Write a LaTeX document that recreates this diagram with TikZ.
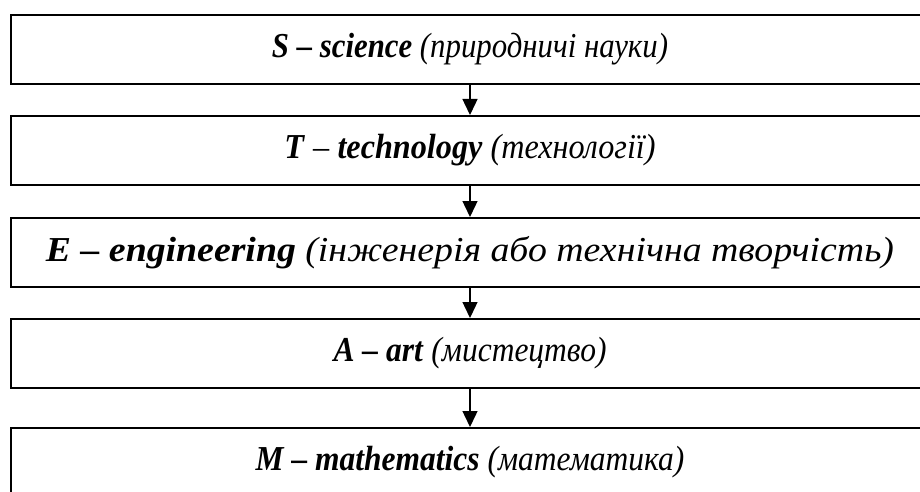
\documentclass[tikz,border=0pt]{standalone}
\usepackage{fontspec}
\usepackage{graphicx}
\setmainfont{Liberation Serif}
\usetikzlibrary{arrows.meta}
\begin{document}
\begin{tikzpicture}[x=1pt,y=-1pt,
  stembox/.style={draw=black, line width=2pt, minimum width=918pt, minimum height=69pt,
    inner sep=0pt, anchor=north west, font=\fontsize{35}{40}\selectfont},
  link/.style={line width=1.4pt, -{Triangle[width=15pt,length=16pt]}}]
\useasboundingbox (0,0) rectangle (920,492);
\clip (0,0) rectangle (920,492);
\node[stembox] (s) at (10,14) {\scalebox{0.88}[1]{\textbf{\textit{S – science}} \textit{(природничі науки)}}};
\node[stembox] (t) at (10,115) {\scalebox{0.92}[1]{\textbf{\textit{T}} \textit{–} \textbf{\textit{technology}} \textit{(технології)}}};
\node[stembox] (e) at (10,217) {\scalebox{1.08}[1]{\textbf{\textit{E – engineering}} \textit{(інженерія або технічна творчість)}}};
\node[stembox] (a) at (10,318) {\scalebox{0.9}[1]{\textbf{\textit{A – art}} \textit{(мистецтво)}}};
\node[stembox] (m) at (10,427) {\scalebox{0.9}[1]{\textbf{\textit{M – mathematics}} \textit{(математика)}}};
\draw[link] (s.south) -- (t.north);
\draw[link] (t.south) -- (e.north);
\draw[link] (e.south) -- (a.north);
\draw[link] (a.south) -- (m.north);
\end{tikzpicture}
\end{document}
